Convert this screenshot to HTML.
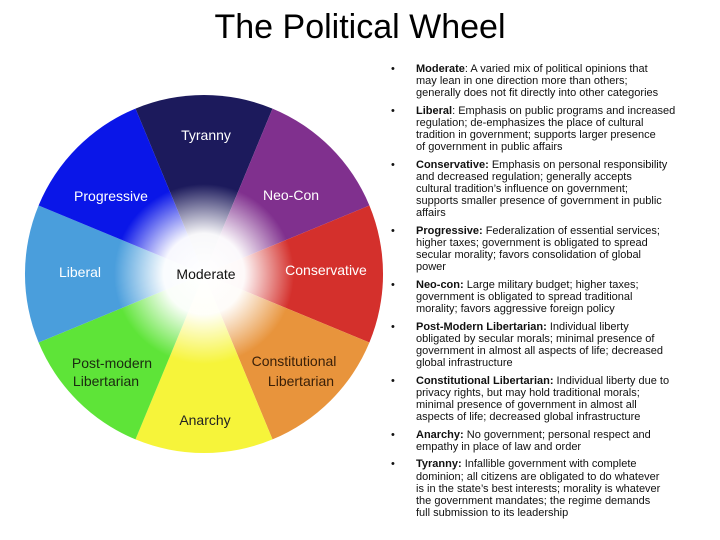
<!DOCTYPE html>
<html><head><meta charset="utf-8"><style>
body{margin:0;width:720px;height:540px;background:#fff;position:relative;overflow:hidden;font-family:"Liberation Sans",sans-serif}
h1{position:absolute;top:8px;left:0;width:720px;text-align:center;margin:0;font-weight:normal;font-size:34px;color:#000}
ul{position:absolute;left:391px;top:63px;margin:0;padding:0;list-style:none;font-size:11px;line-height:12.1px;color:#111;white-space:nowrap}
li{position:relative;padding-left:25px;margin-bottom:5.6px}
li:before{content:"•";position:absolute;left:0;top:0}
</style></head><body>
<h1>The Political Wheel</h1>
<svg width="720" height="540" style="position:absolute;left:0;top:0">
<defs><radialGradient id="g" cx="204" cy="274" r="90" gradientUnits="userSpaceOnUse">
<stop offset="0" stop-color="#fff" stop-opacity="1"/><stop offset="0.45" stop-color="#fff" stop-opacity="0.97"/><stop offset="1" stop-color="#fff" stop-opacity="0"/></radialGradient></defs>
<path d="M204 274L135.5 108.6A179 179 0 0 1 272.5 108.6Z" fill="#1c1a5c"/>
<path d="M204 274L272.5 108.6A179 179 0 0 1 369.4 205.5Z" fill="#80308e"/>
<path d="M204 274L369.4 205.5A179 179 0 0 1 369.4 342.5Z" fill="#d4302c"/>
<path d="M204 274L369.4 342.5A179 179 0 0 1 272.5 439.4Z" fill="#e8943c"/>
<path d="M204 274L272.5 439.4A179 179 0 0 1 135.5 439.4Z" fill="#f6f43a"/>
<path d="M204 274L135.5 439.4A179 179 0 0 1 38.6 342.5Z" fill="#5ee438"/>
<path d="M204 274L38.6 342.5A179 179 0 0 1 38.6 205.5Z" fill="#4a9edc"/>
<path d="M204 274L38.6 205.5A179 179 0 0 1 135.5 108.6Z" fill="#0a16e8"/>
<circle cx="204" cy="274" r="90" fill="url(#g)"/>
<g font-size="14" text-anchor="middle" font-family="Liberation Sans,sans-serif">
<text x="206" y="140" fill="#fff">Tyranny</text>
<text x="111" y="201" fill="#fff">Progressive</text>
<text x="291" y="200" fill="#fff">Neo-Con</text>
<text x="80" y="277" fill="#fff">Liberal</text>
<text x="326" y="275" fill="#fff">Conservative</text>
<text x="206" y="279" fill="#111">Moderate</text>
<text x="112" y="368" fill="#1a2a10">Post-modern</text>
<text x="106" y="386" fill="#1a2a10">Libertarian</text>
<text x="294" y="366" fill="#3a2008">Constitutional</text>
<text x="301" y="386" fill="#3a2008">Libertarian</text>
<text x="205" y="425" fill="#222">Anarchy</text>
</g></svg>
<ul>
<li><b>Moderate</b>: A varied mix of political opinions that<br>may lean in one direction more than others;<br>generally does not fit directly into other categories</li>
<li><b>Liberal</b>: Emphasis on public programs and increased<br>regulation; de-emphasizes the place of cultural<br>tradition in government; supports larger presence<br>of government in public affairs</li>
<li><b>Conservative:</b> Emphasis on personal responsibility<br>and decreased regulation; generally accepts<br>cultural tradition’s influence on government;<br>supports smaller presence of government in public<br>affairs</li>
<li><b>Progressive:</b> Federalization of essential services;<br>higher taxes; government is obligated to spread<br>secular morality; favors consolidation of global<br>power</li>
<li><b>Neo-con:</b> Large military budget; higher taxes;<br>government is obligated to spread traditional<br>morality; favors aggressive foreign policy</li>
<li><b>Post-Modern Libertarian:</b> Individual liberty<br>obligated by secular morals; minimal presence of<br>government in almost all aspects of life; decreased<br>global infrastructure</li>
<li><b>Constitutional Libertarian:</b> Individual liberty due to<br>privacy rights, but may hold traditional morals;<br>minimal presence of government in almost all<br>aspects of life; decreased global infrastructure</li>
<li><b>Anarchy:</b> No government; personal respect and<br>empathy in place of law and order</li>
<li><b>Tyranny:</b> Infallible government with complete<br>dominion; all citizens are obligated to do whatever<br>is in the state’s best interests; morality is whatever<br>the government mandates; the regime demands<br>full submission to its leadership</li>
</ul>
</body></html>
